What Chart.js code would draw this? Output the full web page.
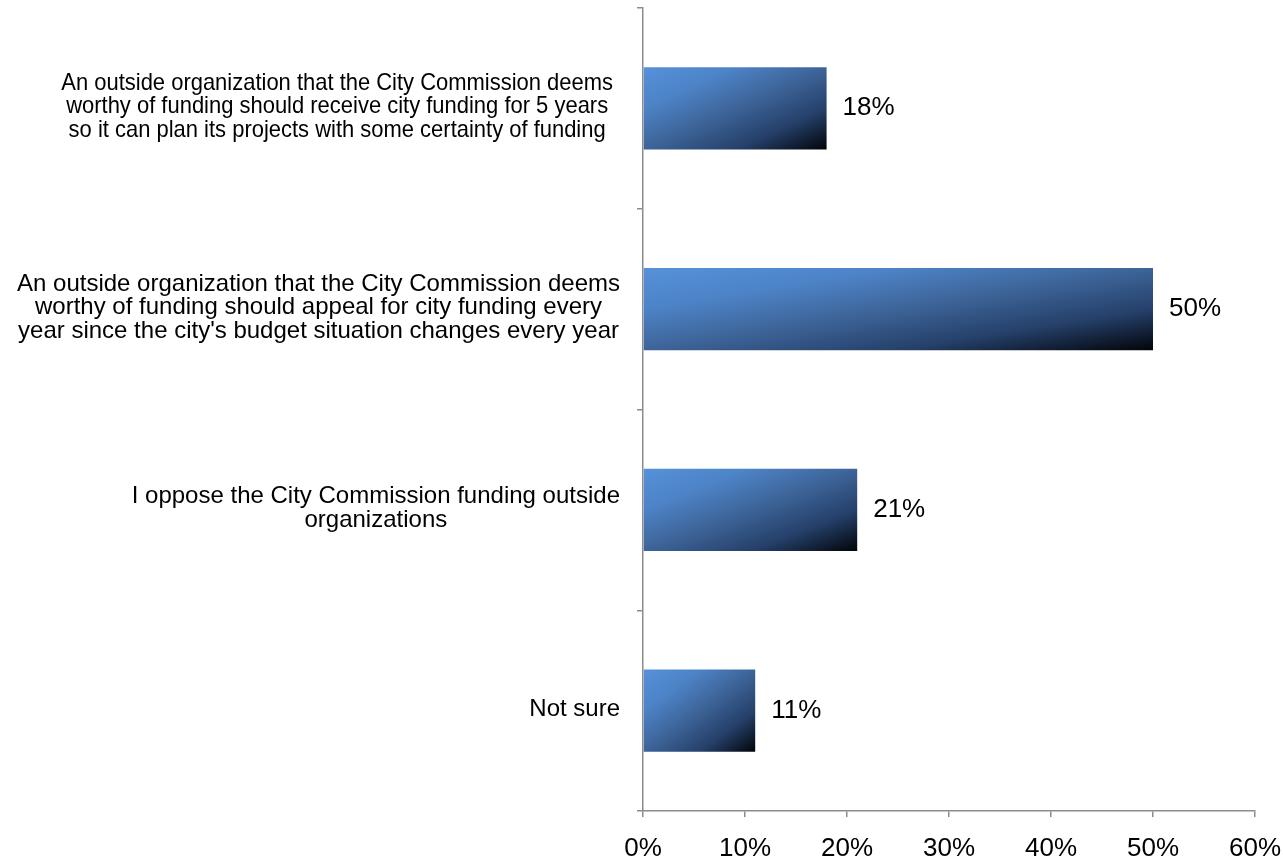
<!DOCTYPE html>
<html lang="en">
<head>
<meta charset="utf-8">
<title>Funding outside organizations</title>
<script src="https://cdn.jsdelivr.net/npm/chart.js@4/dist/chart.umd.min.js"></script>
<style>
  html, body { margin: 0; padding: 0; background: #fff; }
  canvas { display: block; }
</style>
</head>
<body>
<canvas id="chart" width="1283" height="859"></canvas>
<script>
// ---------------------- Data ----------------------
const categories = [
  ['An outside organization that the City Commission deems',
   'worthy of funding should receive city funding for 5 years',
   'so it can plan its projects with some certainty of funding'],
  ['An outside organization that the City Commission deems',
   'worthy of funding should appeal for city funding every',
   "year since the city's budget situation changes every year"],
  ['I oppose the City Commission funding outside',
   'organizations'],
  ['Not sure'],
];
const shares = [18, 50, 21, 11];          // percent of respondents
const xTicks = [0, 10, 20, 30, 40, 50, 60]; // axis ticks, percent
// --------------------------------------------------

const FONT = '"Liberation Sans", Arial, sans-serif';
const AXIS_GREY = '#8c8c8c';

// blue-to-black fill, isolines running corner to corner across each bar
const barGradient = {
  id: 'barGradient',
  beforeDatasetsDraw(chart) {
    const ctx = chart.ctx;
    chart.getDatasetMeta(0).data.forEach((bar) => {
      const { x, y, base, height } = bar.getProps(['x', 'y', 'base', 'height'], true);
      const x0 = base, y0 = y - height / 2;
      const w = Math.max(1, x - base), h = height;
      const k = 2 / (1 / (w * w) + 1 / (h * h));
      const g = ctx.createLinearGradient(x0, y0, x0 + k / w, y0 + k / h);
      g.addColorStop(0, '#5691da');
      g.addColorStop(0.25, '#4d83c7');
      g.addColorStop(0.5, '#3d6498');
      g.addColorStop(0.75, '#25406a');
      g.addColorStop(1, '#020409');
      bar.options.backgroundColor = g;
    });
  },
};

// value labels to the right of each bar
const valueLabels = {
  id: 'valueLabels',
  afterDatasetsDraw(chart) {
    const ctx = chart.ctx;
    ctx.save();
    ctx.font = `26px ${FONT}`;
    ctx.fillStyle = '#000';
    ctx.textAlign = 'left';
    ctx.textBaseline = 'alphabetic';
    chart.getDatasetMeta(0).data.forEach((bar, i) => {
      ctx.fillText(`${shares[i]}%`, bar.x + 16, bar.y + 7);
    });
    ctx.restore();
  },
};

// category labels: block sits against the axis, lines centred within it
const categoryLabels = {
  id: 'categoryLabels',
  afterDraw(chart, args, opts) {
    const ctx = chart.ctx;
    const yScale = chart.scales.y;
    const axisX = chart.chartArea.left;
    const lineH = 23.5;
    ctx.save();
    ctx.font = `24px ${FONT}`;
    ctx.fillStyle = '#000';
    ctx.textAlign = 'center';
    ctx.textBaseline = 'alphabetic';
    categories.forEach((lines, i) => {
      const sx = opts.stretch[i] || 1;
      const widest = Math.max(...lines.map((l) => ctx.measureText(l).width)) * sx;
      const cx = axisX - opts.gap[i] - widest / 2;
      const cy = yScale.getPixelForTick(i);
      lines.forEach((line, j) => {
        const by = cy + 5 + (j - (lines.length - 1) / 2) * lineH;
        ctx.save();
        ctx.translate(cx, by);
        ctx.scale(sx, 1);
        ctx.fillText(line, 0, 0);
        ctx.restore();
      });
    });
    ctx.restore();
  },
};

new Chart(document.getElementById('chart'), {
  type: 'bar',
  data: {
    labels: categories,
    datasets: [{
      data: shares,
      // scriptable so every bar keeps its own options object
      backgroundColor: () => '#4d83c7',
      borderWidth: 0,
      barPercentage: 0.41,
      categoryPercentage: 1,
    }],
  },
  options: {
    indexAxis: 'y',
    responsive: false,
    animation: false,
    layout: { padding: { top: 8, right: 0, bottom: 0, left: 0 } },
    plugins: {
      legend: { display: false },
      tooltip: { enabled: false },
      categoryLabels: { gap: [30, 23, 23, 23], stretch: [0.915, 1, 1, 1] },
    },
    scales: {
      x: {
        type: 'linear',
        min: xTicks[0],
        max: xTicks[xTicks.length - 1],
        ticks: {
          stepSize: xTicks[1] - xTicks[0],
          callback: (v) => `${v}%`,
          color: '#000',
          font: { family: FONT, size: 26 },
          padding: 16,
          maxRotation: 0,
        },
        grid: { drawOnChartArea: false, tickLength: 6, color: AXIS_GREY, lineWidth: 1.5 },
        border: { color: AXIS_GREY, width: 1.5 },
        afterFit(scale) {
          scale.height = 48;
          scale.paddingRight = 28;
        },
      },
      y: {
        type: 'category',
        offset: true,
        ticks: { display: false },
        grid: { offset: true, drawOnChartArea: false, tickLength: 6, color: AXIS_GREY, lineWidth: 1.5 },
        border: { color: AXIS_GREY, width: 1.5 },
        afterFit(scale) { scale.width = 643; },
      },
    },
  },
  plugins: [barGradient, valueLabels, categoryLabels],
});
</script>
</body>
</html>
